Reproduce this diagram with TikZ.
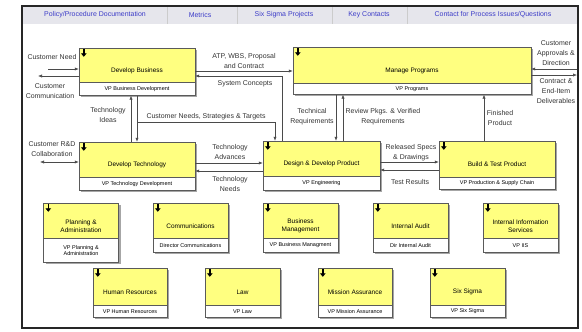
\documentclass[tikz,border=0pt]{standalone}
\usepackage{fontspec}
\setmainfont{Liberation Sans}
\usepackage{tikz}
\usetikzlibrary{arrows.meta}
\usetikzlibrary{positioning}
\usetikzlibrary{shadows}
\definecolor{boxyellow}{HTML}{FFFF80}
\definecolor{edgegray}{HTML}{5A5A5A}
\definecolor{linegray}{HTML}{4A4A4A}
\definecolor{headgray}{HTML}{E6E6EC}
\definecolor{headblue}{HTML}{3C3CC8}

\begin{document}
\begin{tikzpicture}[x=1bp, y=-1bp, >={Latex[length=4bp,width=3.2bp]},
    boxshadow/.style={drop shadow={shadow xshift=2bp, shadow yshift=-2bp, fill=black!35, opacity=1}},
    proc/.style={draw=edgegray, fill=boxyellow, inner sep=0pt, boxshadow},
    vp/.style={draw=edgegray, fill=white, inner sep=0pt, align=center, font=\fontsize{5.5}{6.5}\selectfont, boxshadow},
    ttl/.style={align=center, font=\fontsize{6.5}{8}\selectfont},
    lbl/.style={align=center, text=black!80, font=\fontsize{7}{10}\selectfont, inner sep=1pt},
    flow/.style={draw=linegray, line width=0.6bp, ->},
    icon/.style={line width=1.6bp, -{Triangle[width=5.5bp,length=3.5bp]}},
    hd/.style={text=headblue, font=\fontsize{7}{8}\selectfont}]
    \useasboundingbox (0,0) rectangle (582,331);

    % header bar
    \fill[headgray] (22,6) rectangle (578,24);
    \foreach \sx in {167,237,332,407} \draw[white!60!gray] (\sx,7) -- (\sx,24);
    \node[hd] (hd1) at (95,15) {Policy/Procedure Documentation};
    \node[hd] (hd2) at (200,15) {Metrics};
    \node[hd] (hd3) at (284,15) {Six Sigma Projects};
    \node[hd] (hd4) at (369,15) {Key Contacts};
    \node[hd] (hd5) at (493,15) {Contact for Process Issues/Questions};

    % process boxes
    \node[proc, minimum width=116bp, minimum height=34bp] (devbus) at (137,65) {};
    \node[vp, minimum width=116bp, minimum height=13bp, below=0pt of devbus] (devbus-vp) {VP Business Development};
    \node[ttl] (devbus-t) at ([yshift=-5.5bp]devbus.center) {Develop Business};

    \node[proc, minimum width=238bp, minimum height=36bp] (manprog) at (412,65) {};
    \node[vp, minimum width=238bp, minimum height=11bp, below=0pt of manprog] (manprog-vp) {VP Programs};
    \node[ttl] (manprog-t) at ([yshift=-5.5bp]manprog.center) {Manage Programs};

    \node[proc, minimum width=116bp, minimum height=35bp] (devtech) at (137,159.5) {};
    \node[vp, minimum width=116bp, minimum height=13bp, below=0pt of devtech] (devtech-vp) {VP Technology Development};
    \node[ttl] (devtech-t) at ([yshift=-5.5bp]devtech.center) {Develop Technology};

    \node[proc, minimum width=117bp, minimum height=35bp] (design) at (321.5,158.5) {};
    \node[vp, minimum width=117bp, minimum height=14bp, below=0pt of design] (design-vp) {VP Engineering};
    \node[ttl] (design-t) at ([yshift=-5.5bp]design.center) {Design \& Develop Product};

    \node[proc, minimum width=116bp, minimum height=36bp] (build) at (497,159) {};
    \node[vp, minimum width=116bp, minimum height=12bp, below=0pt of build] (build-vp) {VP Production \& Supply Chain};
    \node[ttl] (build-t) at ([yshift=-5.5bp]build.center) {Build \& Test Product};

    % support boxes, first row
    \node[proc, minimum width=75bp, minimum height=35bp] (plan) at (81,220.5) {};
    \node[vp, minimum width=75bp, minimum height=24bp, below=0pt of plan] (plan-vp) {VP Planning \&\\Administration};
    \node[ttl] (plan-t) at ([yshift=-5.5bp]plan.center) {Planning \&\\Administration};

    \node[proc, minimum width=75bp, minimum height=35bp] (comms) at (190.5,220.5) {};
    \node[vp, minimum width=75bp, minimum height=14bp, below=0pt of comms] (comms-vp) {Director Communications};
    \node[ttl] (comms-t) at ([yshift=-5.5bp]comms.center) {Communications};

    \node[proc, minimum width=75bp, minimum height=35bp] (busman) at (300.5,220.5) {};
    \node[vp, minimum width=75bp, minimum height=14bp, below=0pt of busman] (busman-vp) {VP Business Managment};
    \node[ttl] (busman-t) at ([yshift=-5.5bp]busman.center) {Business\\Management};

    \node[proc, minimum width=75bp, minimum height=35bp] (audit) at (410.5,220.5) {};
    \node[vp, minimum width=75bp, minimum height=14bp, below=0pt of audit] (audit-vp) {Dir Internal Audit};
    \node[ttl] (audit-t) at ([yshift=-5.5bp]audit.center) {Internal Audit};

    \node[proc, minimum width=75bp, minimum height=35bp] (infosvc) at (520.5,220.5) {};
    \node[vp, minimum width=75bp, minimum height=14bp, below=0pt of infosvc] (infosvc-vp) {VP IIS};
    \node[ttl] (infosvc-t) at ([yshift=-5.5bp]infosvc.center) {Internal Information\\Services};

    % support boxes, second row
    \node[proc, minimum width=74bp, minimum height=37bp] (hr) at (130,286.5) {};
    \node[vp, minimum width=74bp, minimum height=12bp, below=0pt of hr] (hr-vp) {VP Human Resources};
    \node[ttl] (hr-t) at ([yshift=-5.5bp]hr.center) {Human Resources};

    \node[proc, minimum width=75bp, minimum height=37bp] (law) at (242.5,286.5) {};
    \node[vp, minimum width=75bp, minimum height=12bp, below=0pt of law] (law-vp) {VP Law};
    \node[ttl] (law-t) at ([yshift=-5.5bp]law.center) {Law};

    \node[proc, minimum width=74bp, minimum height=37bp] (mission) at (355,286.5) {};
    \node[vp, minimum width=74bp, minimum height=12bp, below=0pt of mission] (mission-vp) {VP Mission Assurance};
    \node[ttl] (mission-t) at ([yshift=-5.5bp]mission.center) {Mission Assurance};

    \node[proc, minimum width=75bp, minimum height=37bp] (sixsig) at (467.5,286.5) {};
    \node[vp, minimum width=75bp, minimum height=12bp, below=0pt of sixsig] (sixsig-vp) {VP Six Sigma};
    \node[ttl] (sixsig-t) at ([yshift=-5.5bp]sixsig.center) {Six Sigma};

    \foreach \b in {devbus,manprog,devtech,design,build,plan,comms,busman,audit,infosvc,hr,law,mission,sixsig}
        \draw[icon] ([shift={(5,1.5)}]\b.north west) -- ++(0,7.5);

    % free ends
    \coordinate (need) at (48,69);
    \coordinate (comm) at (38,76);
    \coordinate (rnd) at (40,162);
    \coordinate (appr) at (577,69);
    \coordinate (ctr) at (577,75);
    \coordinate (cnst) at (137,122);

    % connectors
    \draw[flow] (need) -- (need -| devbus.west);
    \draw[flow] (comm -| devbus.west) -- (comm);
    \draw[flow, <->] (rnd) -- (rnd -| devtech.west);
    \draw[flow] (appr) -- (appr -| manprog.east);
    \draw[flow] (ctr -| manprog.east) -- (ctr);
    \draw[flow] (devbus.east |- 0,71) -- (manprog.west |- 0,71);
    \draw[flow] (282,0 |- design.north) |- (devbus.east |- 0,76);
    \draw[flow] (131,0 |- devtech.north) -- (131,0 |- devbus-vp.south);
    \draw[flow] (137,0 |- devbus-vp.south) -- (137,0 |- devtech.north);
    \draw[flow] (cnst) -| (275,0 |- design.north);
    \draw[flow] (336,0 |- manprog-vp.south) -- (336,0 |- design.north);
    \draw[flow] (343,0 |- design.north) -- (343,0 |- manprog-vp.south);
    \draw[flow] (484,0 |- build.north) -- (484,0 |- manprog-vp.south);
    \draw[flow] (devtech.east |- 0,163) -- (design.west |- 0,163);
    \draw[flow] (design.west |- 0,171) -- (devtech.east |- 0,171);
    \draw[flow] (design.east |- 0,162) -- (build.west |- 0,162);
    \draw[flow] (build.west |- 0,170) -- (design.east |- 0,170);

    % connector labels
    \node[lbl] (l-need) at (52,57) {Customer Need};
    \node[lbl] (l-comm) at (50,91) {Customer\\Communication};
    \node[lbl] (l-atp) at (244,61) {ATP, WBS, Proposal\\and Contract};
    \node[lbl] (l-sys) at (245,84) {System Concepts};
    \node[lbl] (l-ideas) at (108,115) {Technology\\Ideas};
    \node[lbl] (l-needs) at (206,116.5) {Customer Needs, Strategies \& Targets};
    \node[lbl] (l-rnd) at (52,149) {Customer R\&D\\Collaboration};
    \node[lbl] (l-adv) at (230,152) {Technology\\Advances};
    \node[lbl] (l-tneeds) at (230,184) {Technology\\Needs};
    \node[lbl] (l-treq) at (312,116.5) {Technical\\Requirements};
    \node[lbl] (l-review) at (383,117) {Review Pkgs. \& Verified\\Requirements};
    \node[lbl] (l-fin) at (500,118) {Finished\\Product};
    \node[lbl] (l-spec) at (411,152.5) {Released Specs\\\& Drawings};
    \node[lbl] (l-test) at (410,182) {Test Results};
    \node[lbl] (l-appr) at (556,53) {Customer\\Approvals \&\\Direction};
    \node[lbl] (l-ctr) at (556,91) {Contract \&\\End-Item\\Deliverables};

    % outer frame
    \draw[line width=1.5bp, black!85] (22,6) rectangle (578,328);
\end{tikzpicture}
\end{document}
